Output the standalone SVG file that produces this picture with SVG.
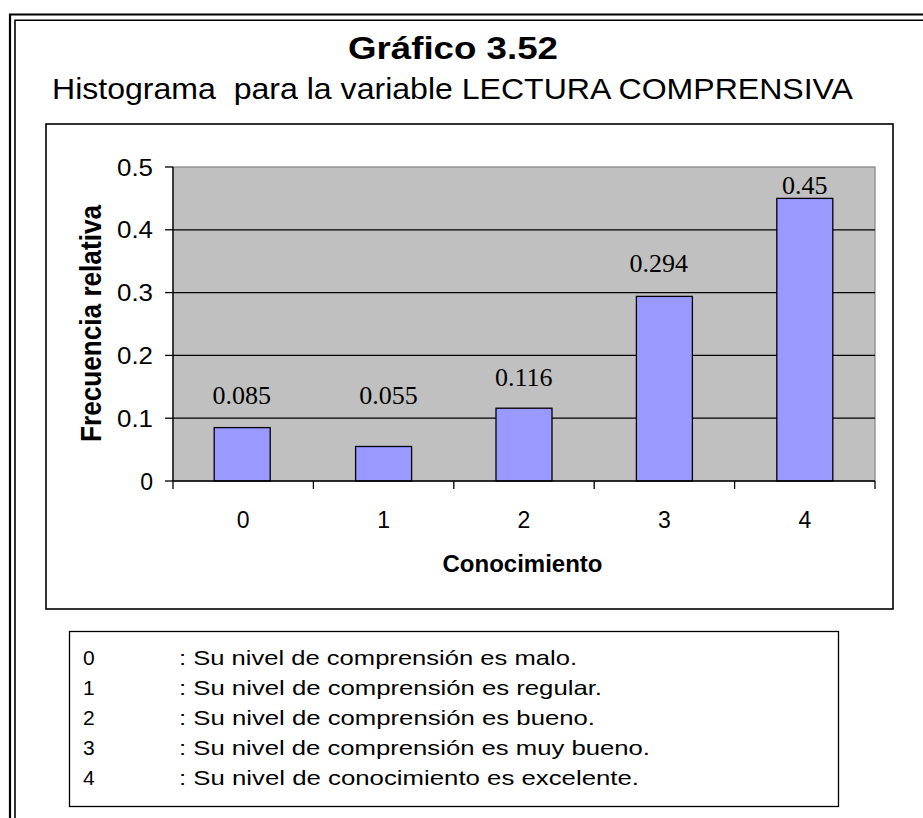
<svg xmlns="http://www.w3.org/2000/svg" width="923" height="818" viewBox="0 0 923 818">
<style>
.sans{font-family:"Liberation Sans",Arial,sans-serif;fill:#000}
.serif{font-family:"Liberation Serif","Times New Roman",serif;fill:#000}
.b{font-weight:bold}
.bar{fill:#9999FF;stroke:#000;stroke-width:1.3}
.grid{stroke:#000;stroke-width:1.2;fill:none}
.tick{stroke:#000;stroke-width:1.3}
.pre{white-space:pre}
</style>
<rect width="923" height="818" fill="#fff"/>
<g id="frame">
<path d="M10 818 V14.5 H923" fill="none" stroke="#000" stroke-width="2.2"/>
<path d="M15 818 V20.3 H923" fill="none" stroke="#000" stroke-width="1.6"/>
</g>
<g id="titles">
<text class="sans b" x="453" y="59" font-size="32" text-anchor="middle" textLength="210" lengthAdjust="spacingAndGlyphs">Gráfico 3.52</text>
<text class="sans pre" x="52" y="99" font-size="30" textLength="801" lengthAdjust="spacingAndGlyphs">Histograma  para la variable LECTURA COMPRENSIVA</text>
</g>
<g id="chart">
<rect x="46" y="124" width="847" height="485" fill="#fff" stroke="#000" stroke-width="1.6"/>
<rect id="plot-area" x="173" y="167" width="702" height="314" fill="#C0C0C0" stroke="#808080" stroke-width="1.2"/>
<g id="gridlines">
<line class="grid" x1="173" y1="418.2" x2="875" y2="418.2"/>
<line class="grid" x1="173" y1="355.4" x2="875" y2="355.4"/>
<line class="grid" x1="173" y1="292.6" x2="875" y2="292.6"/>
<line class="grid" x1="173" y1="229.8" x2="875" y2="229.8"/>
</g>
<g id="bars">
<rect id="bar-0" class="bar" x="214.2" y="427.6" width="56" height="53.4"/>
<rect id="bar-1" class="bar" x="355.6" y="446.5" width="56" height="34.5"/>
<rect id="bar-2" class="bar" x="496" y="408.2" width="56" height="72.8"/>
<rect id="bar-3" class="bar" x="636.4" y="296.4" width="56" height="184.6"/>
<rect id="bar-4" class="bar" x="776.8" y="198.4" width="56" height="282.6"/>
</g>
<g id="axes">
<line class="tick" x1="173" y1="167" x2="173" y2="481"/>
<line class="tick" x1="173" y1="481" x2="875" y2="481"/>
<line class="tick" x1="165" y1="167" x2="173" y2="167"/>
<line class="tick" x1="165" y1="229.8" x2="173" y2="229.8"/>
<line class="tick" x1="165" y1="292.6" x2="173" y2="292.6"/>
<line class="tick" x1="165" y1="355.4" x2="173" y2="355.4"/>
<line class="tick" x1="165" y1="418.2" x2="173" y2="418.2"/>
<line class="tick" x1="165" y1="481" x2="173" y2="481"/>
<line class="tick" x1="173" y1="481" x2="173" y2="489"/>
<line class="tick" x1="313.4" y1="481" x2="313.4" y2="489"/>
<line class="tick" x1="453.8" y1="481" x2="453.8" y2="489"/>
<line class="tick" x1="594.2" y1="481" x2="594.2" y2="489"/>
<line class="tick" x1="734.6" y1="481" x2="734.6" y2="489"/>
<line class="tick" x1="875" y1="481" x2="875" y2="489"/>
</g>
<g id="y-labels" class="sans" font-size="23" text-anchor="end">
<text x="153" y="175.5" textLength="36" lengthAdjust="spacingAndGlyphs">0.5</text>
<text x="153" y="238.3" textLength="36" lengthAdjust="spacingAndGlyphs">0.4</text>
<text x="153" y="301.1" textLength="36" lengthAdjust="spacingAndGlyphs">0.3</text>
<text x="153" y="363.9" textLength="36" lengthAdjust="spacingAndGlyphs">0.2</text>
<text x="153" y="426.7" textLength="36" lengthAdjust="spacingAndGlyphs">0.1</text>
<text x="153" y="489.5">0</text>
</g>
<g id="x-labels" class="sans" font-size="23" text-anchor="middle">
<text x="243.2" y="528">0</text>
<text x="383.6" y="528">1</text>
<text x="524" y="528">2</text>
<text x="664.4" y="528">3</text>
<text x="804.8" y="528">4</text>
</g>
<g id="data-labels" class="serif" font-size="26" text-anchor="middle">
<text x="241.7" y="404.3">0.085</text>
<text x="388.5" y="404.3">0.055</text>
<text x="523.8" y="386">0.116</text>
<text x="658.8" y="272">0.294</text>
<text x="804.7" y="194">0.45</text>
</g>
<text class="sans b" x="522.5" y="572" font-size="24" text-anchor="middle">Conocimiento</text>
<text class="sans b" transform="translate(101 323.5) rotate(-90)" x="0" y="0" font-size="29" text-anchor="middle" textLength="237" lengthAdjust="spacingAndGlyphs">Frecuencia relativa</text>
</g>
<g id="legend">
<rect x="69.5" y="631.5" width="769" height="175" fill="#fff" stroke="#000" stroke-width="1.3"/>
<g class="sans" font-size="21">
<text x="83" y="665">0</text>
<text x="179" y="665" textLength="398" lengthAdjust="spacingAndGlyphs">: Su nivel de comprensión es malo.</text>
<text x="83" y="695">1</text>
<text x="179" y="695" textLength="423" lengthAdjust="spacingAndGlyphs">: Su nivel de comprensión es regular.</text>
<text x="83" y="725">2</text>
<text x="179" y="725" textLength="416" lengthAdjust="spacingAndGlyphs">: Su nivel de comprensión es bueno.</text>
<text x="83" y="755">3</text>
<text x="179" y="755" textLength="471" lengthAdjust="spacingAndGlyphs">: Su nivel de comprensión es muy bueno.</text>
<text x="83" y="785">4</text>
<text x="179" y="785" textLength="460" lengthAdjust="spacingAndGlyphs">: Su nivel de conocimiento es excelente.</text>
</g>
</g>
</svg>
